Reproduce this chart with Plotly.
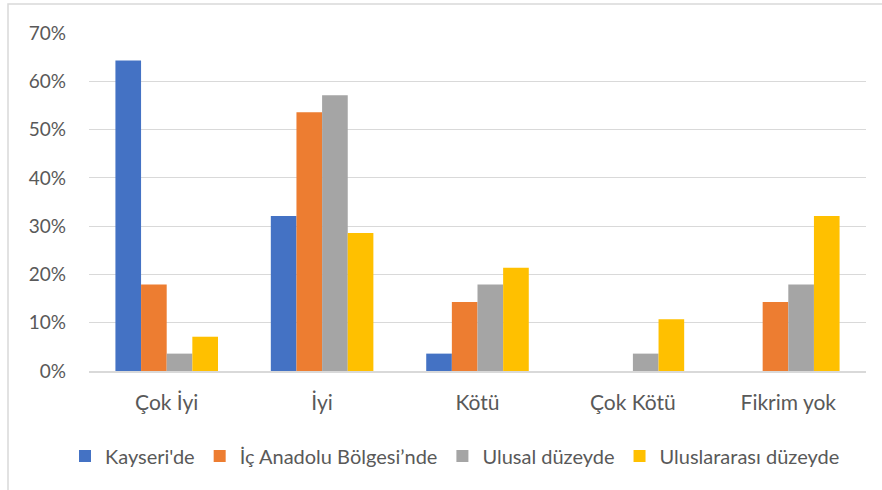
import plotly.graph_objects as go

categories = ["Çok İyi", "İyi", "Kötü", "Çok Kötü", "Fikrim yok"]
series_names = ["Kayseri'de", "İç Anadolu Bölgesi’nde", "Ulusal düzeyde", "Uluslararası düzeyde"]
kayseri = [0.643, 0.321, 0.036, 0.0, 0.0]
ic_anadolu = [0.179, 0.536, 0.143, 0.0, 0.143]
ulusal = [0.036, 0.571, 0.179, 0.036, 0.179]
uluslararasi = [0.071, 0.286, 0.214, 0.107, 0.321]
colors = ["#4472C4", "#ED7D31", "#A5A5A5", "#FFC000"]
y_ticks = [0, 0.1, 0.2, 0.3, 0.4, 0.5, 0.6, 0.7]

W, H = 882, 490
L, R, T, B = 89, 16, 33, 119
pw, ph = W - L - R, H - T - B

def px_x(x):
    return (x - L) / pw

def px_y(y):
    return (H - B - y) / ph

fig = go.Figure()
for name, vals, col in zip(series_names, [kayseri, ic_anadolu, ulusal, uluslararasi], colors):
    fig.add_trace(go.Bar(x=categories, y=vals, name=name, marker=dict(color=col, line=dict(width=0))))

font = "Lato, Open Sans, sans-serif"
fig.update_layout(
    width=W, height=H,
    margin=dict(l=L, r=R, t=T, b=B, autoexpand=False),
    paper_bgcolor="white", plot_bgcolor="white",
    barmode="group", bargap=0.34, bargroupgap=0,
    font=dict(family=font, size=20, color="#595959"),
    xaxis=dict(showgrid=False, showline=True, linecolor="#d9d9d9", linewidth=1.5,
               ticks="", ticklabelstandoff=12, tickfont=dict(size=21, color="#595959")),
    yaxis=dict(range=[0, 0.7], tickvals=y_ticks, tickformat=".0%",
               showgrid=True, gridcolor="#d9d9d9", gridwidth=1, zeroline=False,
               showline=False, ticks="", ticklabelstandoff=22,
               tickfont=dict(size=19, color="#595959")),
    legend=dict(orientation="h", xref="container", yref="container",
                x=(455 / W), xanchor="center", y=1 - 456 / H, yanchor="middle",
                font=dict(size=20, color="#595959"), traceorder="normal",
                itemwidth=30, tracegroupgap=0),
    showlegend=True,
    shapes=[dict(type="rect", xref="paper", yref="paper",
                 x0=px_x(8), x1=px_x(895), y0=px_y(500), y1=px_y(4),
                 line=dict(color="#d9d9d9", width=1.5), fillcolor="rgba(0,0,0,0)", layer="below")],
)
fig.write_html("out.html", config={"displayModeBar": False},
               post_script="document.body.style.margin='0px';")
